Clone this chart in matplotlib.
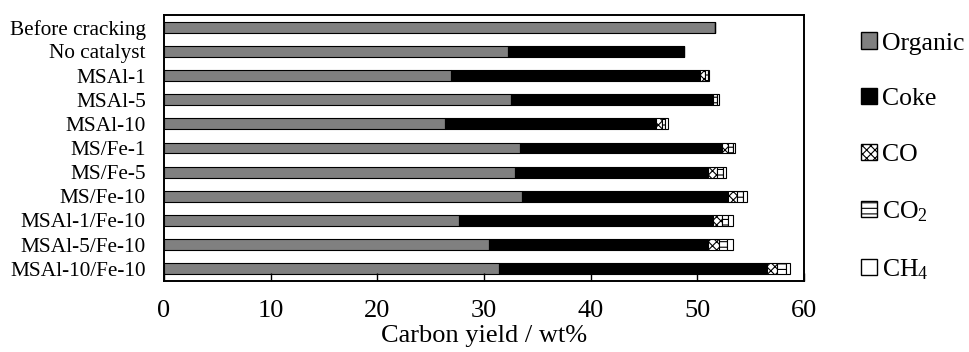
import numpy as np
import matplotlib
matplotlib.use('Agg')
from matplotlib import pyplot as plt
from matplotlib.patches import Patch

plt.rcParams['font.family'] = ['Liberation Serif', 'DejaVu Serif']
plt.rcParams['mathtext.fontset'] = 'custom'
plt.rcParams['mathtext.rm'] = 'Liberation Serif'
plt.rcParams['mathtext.default'] = 'regular'
plt.rcParams['hatch.linewidth'] = 0.8

categories = ['Before cracking', 'No catalyst', 'MSAl-1', 'MSAl-5', 'MSAl-10', 'MS/Fe-1',
              'MS/Fe-5', 'MS/Fe-10', 'MSAl-1/Fe-10', 'MSAl-5/Fe-10', 'MSAl-10/Fe-10']
organic = [51.6, 32.2, 26.9, 32.5, 26.3, 33.4, 32.9, 33.6, 27.7, 30.5, 31.4]
coke = [0, 16.5, 23.3, 18.9, 19.8, 18.9, 18.1, 19.3, 23.8, 20.5, 25.1]
co = [0, 0, 0.5, 0.1, 0.6, 0.6, 0.8, 0.8, 0.8, 1.0, 1.0]
co2 = [0, 0, 0.25, 0.3, 0.3, 0.4, 0.6, 0.6, 0.6, 0.8, 0.8]
ch4 = [0, 0, 0.15, 0.2, 0.2, 0.2, 0.3, 0.3, 0.4, 0.5, 0.4]
x_ticks = [0, 10, 20, 30, 40, 50, 60]

series = [
    ('Organic', organic, dict(color='#808080', hatch=None)),
    ('Coke', coke, dict(color='black', hatch=None)),
    ('CO', co, dict(color='white', hatch='xxxx')),
    ('CO$_2$', co2, dict(color='white', hatch='---')),
    ('CH$_4$', ch4, dict(color='white', hatch=None)),
]

fig = plt.figure(figsize=(9.70, 3.52), dpi=100)
ax = fig.add_axes([0.169, 0.202, 0.660, 0.755])

y = np.arange(len(categories))
left = np.zeros(len(categories))
handles = []
for name, vals, st in series:
    vals = np.array(vals, dtype=float)
    ax.barh(y, vals, left=left, height=0.45, color=st['color'], edgecolor='black',
            linewidth=0.8, hatch=st['hatch'])
    left += vals
    handles.append(Patch(facecolor=st['color'], edgecolor='black', linewidth=1.0,
                         hatch=st['hatch'], label=name))

ax.set_ylim(len(categories) - 0.5, -0.5)
ax.set_yticks(y)
ax.set_yticklabels(categories, fontsize=15.3)
ax.tick_params(axis='y', length=0, pad=13)
ax.set_xlim(0, 60)
ax.set_xticks(x_ticks)
ax.set_xticklabels([str(t) for t in x_ticks], fontsize=19)
ax.tick_params(axis='x', direction='in', length=6, width=1, pad=14)
ax.set_xlabel('Carbon yield / wt%', fontsize=19, labelpad=2)
for s in ax.spines.values():
    s.set_linewidth(1.4)

fig.legend(handles=handles, loc='upper left', bbox_to_anchor=(0.888, 0.908), frameon=False,
           fontsize=18.5, handlelength=0.6, handleheight=0.6, handletextpad=0.2,
           labelspacing=1.3, borderaxespad=0, borderpad=0)

fig.savefig('out.png', dpi=100)
